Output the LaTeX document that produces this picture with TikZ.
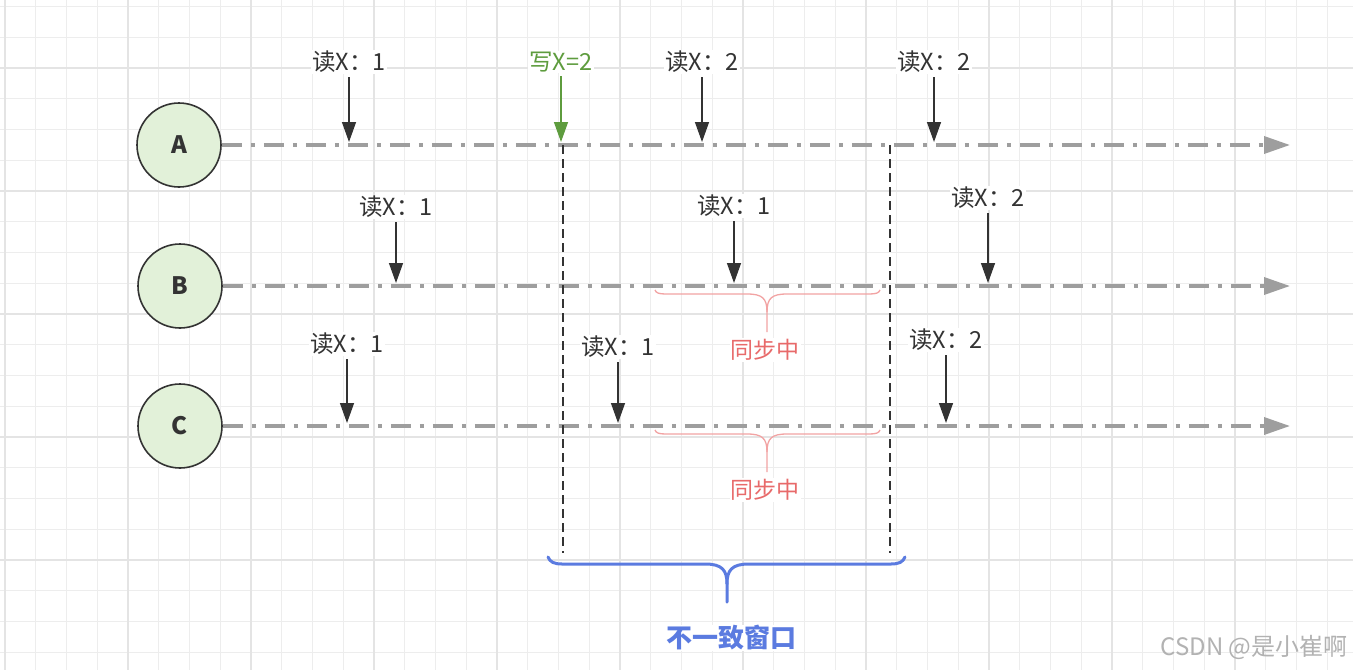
\documentclass[tikz,border=0pt]{standalone}
\usepackage{fontspec}
\setmainfont{Noto Sans CJK SC}
\usetikzlibrary{arrows.meta}
\definecolor{gridminor}{HTML}{EDEDED}
\definecolor{gridmajor}{HTML}{E4E4E4}
\definecolor{nodefill}{HTML}{E2F1D9}
\definecolor{nodeline}{HTML}{333333}
\definecolor{linegray}{HTML}{9E9E9E}
\definecolor{textgray}{HTML}{333333}
\definecolor{writegreen}{HTML}{5E9C3E}
\definecolor{syncred}{HTML}{F2A3A3}
\definecolor{synctext}{HTML}{E86A6A}
\definecolor{gapblue}{HTML}{5B7BE0}
\begin{document}
\begin{tikzpicture}[x=1pt,y=-1pt,
    proc/.style={circle,draw=nodeline,fill=nodefill,line width=1.6pt,minimum size=84pt,inner sep=0pt,
      font=\fontsize{24}{26}\selectfont\bfseries,text=textgray},
    timeline/.style={draw=linegray,line width=3.5pt,dash pattern=on 20pt off 9pt on 4pt off 9pt,
      -{Triangle[length=26pt,width=17pt]}},
    readlabel/.style={fill=white,inner sep=1pt,font=\fontsize{23.5}{25}\selectfont,text=textgray},
    readarrow/.style={draw=textgray,line width=1.4pt,shorten <=3pt,-{Triangle[length=20pt,width=14pt]}},
    window/.style={draw=nodeline,line width=1.7pt,dash pattern=on 9pt off 5pt},
    syncbrace/.style={draw=syncred,line width=1.3pt},
    gapbrace/.style={draw=gapblue,line width=3pt,line cap=round},
  ]
\useasboundingbox (0,0) rectangle (1353,670);
\fill[white] (0,0) rectangle (1353,670);
% grid
\foreach \i in {0,...,44} \draw[gridminor,line width=1pt] (5+30.75*\i,0) -- (5+30.75*\i,670);
\foreach \j in {0,...,21} \draw[gridminor,line width=1pt] (0,6.5+30.75*\j) -- (1353,6.5+30.75*\j);
\foreach \i in {0,...,10} \draw[gridmajor,line width=1.2pt] (5+123*\i,0) -- (5+123*\i,670);
\foreach \j in {0,...,5} \draw[gridmajor,line width=1.2pt] (0,68+123*\j) -- (1353,68+123*\j);

\node[proc] (A) at (179,145) {A};
\node[proc] (B) at (180,286) {B};
\node[proc] (C) at (180,426) {C};
\coordinate (endA) at (1290,145);
\coordinate (endB) at (1290,286);
\coordinate (endC) at (1290,426);
\draw[timeline] (A) -- (endA);
\draw[timeline] (B) -- (endB);
\draw[timeline] (C) -- (endC);

% window
\coordinate (w1t) at (563,145);
\coordinate (w1b) at (563,553);
\coordinate (w2t) at (890,145);
\coordinate (w2b) at (890,553);
\draw[window] (w1t) -- (w1b);
\draw[window] (w2t) -- (w2b);

% reads
\foreach \n/\x/\y/\ly/\v in {a1/349/142/62/1,a2/702/142/62/2,a3/934/142/62/2,
    b1/396/283/207/1,b2/734/283/206/1,b3/988/283/198/2,
    c1/347/423/344/1,c2/618/423/347/1,c3/946/423/340/2}{
  \node[readlabel] (r\n) at (\x,\ly) {读X：\v};
  \coordinate (p\n) at (\x,\y);
  \draw[readarrow] (r\n) -- (p\n);
}
\node[readlabel,text=writegreen] (wa) at (561,62) {写X=2};
\coordinate (pwa) at (561,142);
\draw[readarrow,draw=writegreen] (wa) -- (pwa);

% sync braces
\foreach \t/\n in {290/1,430/2}{
  \draw[syncbrace] (655,\t) .. controls (656,\t+3) and (659,\t+4) .. (666,\t+4) -- (747,\t+4)
    .. controls (762,\t+4) and (767,\t+8) .. (767,\t+22) -- (767,\t+42);
  \draw[syncbrace] (880,\t) .. controls (879,\t+3) and (876,\t+4) .. (869,\t+4) -- (787,\t+4)
    .. controls (772,\t+4) and (767,\t+8) .. (767,\t+22);
  \node[font=\fontsize{23}{25}\selectfont,text=synctext,fill=white,inner sep=1pt] (sync\n) at (765,\t+60) {同步中};
}

% gap brace
\draw[gapbrace] (548,557) .. controls (550,562) and (554,564) .. (562,564) -- (705,564)
  .. controls (722,564) and (727,570) .. (727,584) -- (727,602);
\draw[gapbrace] (905,557) .. controls (903,562) and (899,564) .. (891,564) -- (749,564)
  .. controls (732,564) and (727,570) .. (727,584);
\node[font=\fontsize{26}{28}\selectfont\bfseries,text=gapblue,fill=white,inner sep=1pt] (gap) at (731,638) {不一致窗口};

\node[anchor=east,font=\fontsize{24}{26}\selectfont,text=black!30] (wm) at (1351,647) {CSDN @是小崔啊};
\end{tikzpicture}
\end{document}
